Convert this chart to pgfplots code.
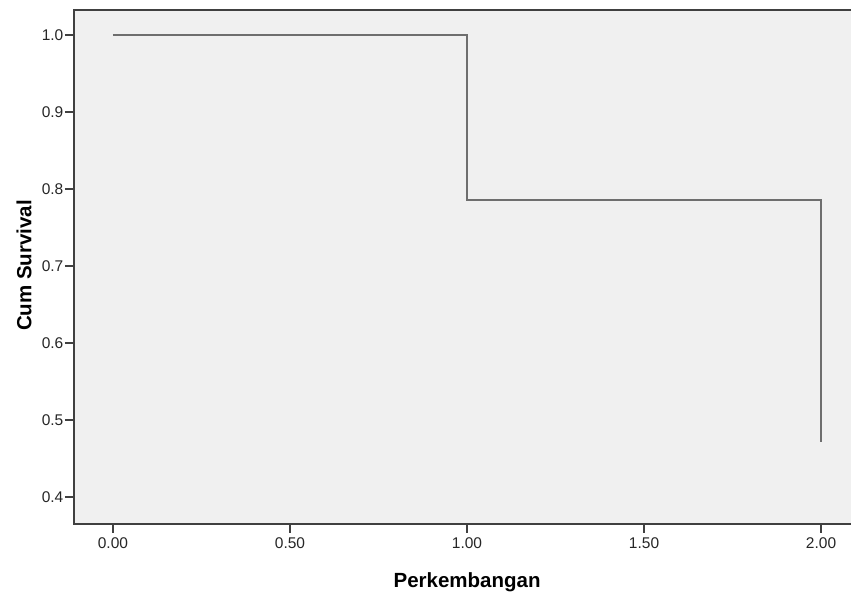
\documentclass[border=0pt]{standalone}
\usepackage{pgfplots}
\pgfplotsset{compat=1.18}
\usepackage{fontspec}
\setmainfont{Liberation Sans}
\definecolor{bgc}{HTML}{F0F0F0}
\definecolor{linec}{HTML}{6E6E6E}
\definecolor{framec}{HTML}{404040}
\begin{document}
\begin{tikzpicture}[x=1pt,y=1pt]
\path[use as bounding box] (-74pt,-75pt) rectangle (777pt,524pt);
\clip (-74pt,-75pt) rectangle (777pt,524pt);
\begin{axis}[
  at={(0pt,0pt)}, anchor=south west,
  scale only axis, width=780pt, height=514pt,
  xmin=-0.110, xmax=2.093, ymin=0.365, ymax=1.0325,
  axis background/.style={fill=bgc},
  axis line style={framec, line width=1.4pt},
  xtick={0,0.5,1,1.5,2},
  xticklabels={0.00,0.50,1.00,1.50,2.00},
  ytick={0.4,0.5,0.6,0.7,0.8,0.9,1.0},
  yticklabels={0.4,0.5,0.6,0.7,0.8,0.9,1.0},
  tick align=outside, major tick length=9pt,
  tick style={framec, line width=1.4pt},
  xtick pos=bottom, ytick pos=left,
  ticklabel style={font=\fontsize{15.5}{17}\selectfont, text=black!85},
  yticklabel style={inner sep=1.5pt},
  xticklabel style={inner sep=4.5pt},
  /pgf/number format/assume math mode=true,
  xlabel={\textbf{Perkembangan}},
  ylabel={\textbf{Cum Survival}},
  label style={font=\fontsize{20.5}{24}\selectfont},
  xlabel style={at={(axis description cs:0.504,0)}, anchor=north, yshift=-45pt},
  ylabel style={at={(axis description cs:0,0.503)}, anchor=south, yshift=39pt},
]
\addplot[linec, line width=1.8pt, line join=miter] coordinates {
(0,1.0) (1,1.0) (1,0.786) (2,0.786) (2,0.471)
};
\end{axis}
\end{tikzpicture}
\end{document}
